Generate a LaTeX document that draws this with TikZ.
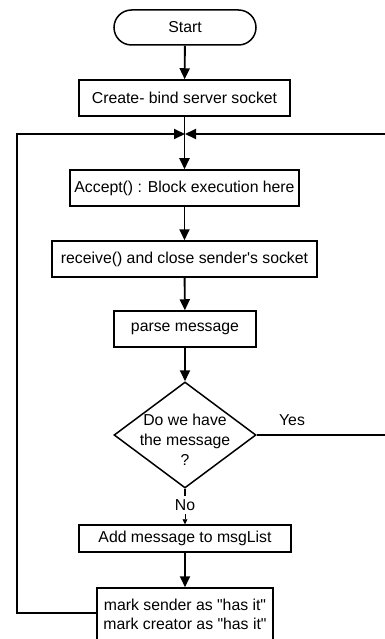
\documentclass[tikz,border=0pt]{standalone}
\usepackage{fontspec}
\setmainfont{Liberation Sans}[Ligatures=TeXOff]
\usetikzlibrary{arrows.meta,shapes.geometric}
\begin{document}
\begin{tikzpicture}[x=1pt,y=-1pt,
  every node/.style={font=\fontsize{15.8}{20}\selectfont},
  box/.style={draw, line width=1.5pt, inner sep=0pt, minimum height=36pt},
  conn/.style={line width=1.9pt, -{Triangle[length=11pt,width=10pt]}},
  plain/.style={line width=1.9pt},
  smallconn/.style={line width=0.8pt, -{Triangle[length=5pt,width=5pt]}}]
\useasboundingbox (0,0) rectangle (385,639);
\node[box, rounded corners=17.5pt, minimum width=142pt, minimum height=35pt] (start) at (185,27.5) {Start};
\node[box, minimum width=211pt] (create) at (184.5,98) {Create- bind server socket};
\coordinate (j) at (185,134);
\node[box, minimum width=229pt] (accept) at (184.5,188) {Accept() : Block execution here};
\node[box, minimum width=265pt] (recv) at (184.5,259) {receive() and close sender's socket};
\node[box, minimum width=142pt] (parse) at (185,329) {parse message};
\node[draw, diamond, line width=1.5pt, inner sep=0pt, minimum width=142pt, minimum height=106pt] (dec) at (185,435) {};
\node[align=center] (dectext) at (185,440) {Do we have\\the message\\?};
\node (yes) at (292,420) {Yes};
\node (no) at (185,505) {No};
\node[box, minimum width=212pt, minimum height=27pt] (add) at (185,538.5) {Add message to msgList};
\node[box, minimum width=176pt, minimum height=56pt, align=center] (mark) at (185,616) {\raisebox{3pt}{\begin{tabular}{@{}c@{}}mark sender as "has it"\\[-1pt]mark creator as "has it"\end{tabular}}};
\draw[conn] (start) -- (create);
\draw[conn] (create) -- (accept);
\draw[conn] (accept) -- (recv);
\draw[conn] (recv) -- (parse);
\draw[conn] (parse) -- (dec);
\draw[plain, line width=1.2pt] (dec.south) -- (no.north);
\draw[smallconn] (no.south) -- (add.north);
\draw[conn] (add) -- (mark);
\draw[conn] ([yshift=3pt]mark.west) -| (17,134) -- (j);
\draw[conn] (dec.east) -- (392,435) |- (j);
\end{tikzpicture}
\end{document}
